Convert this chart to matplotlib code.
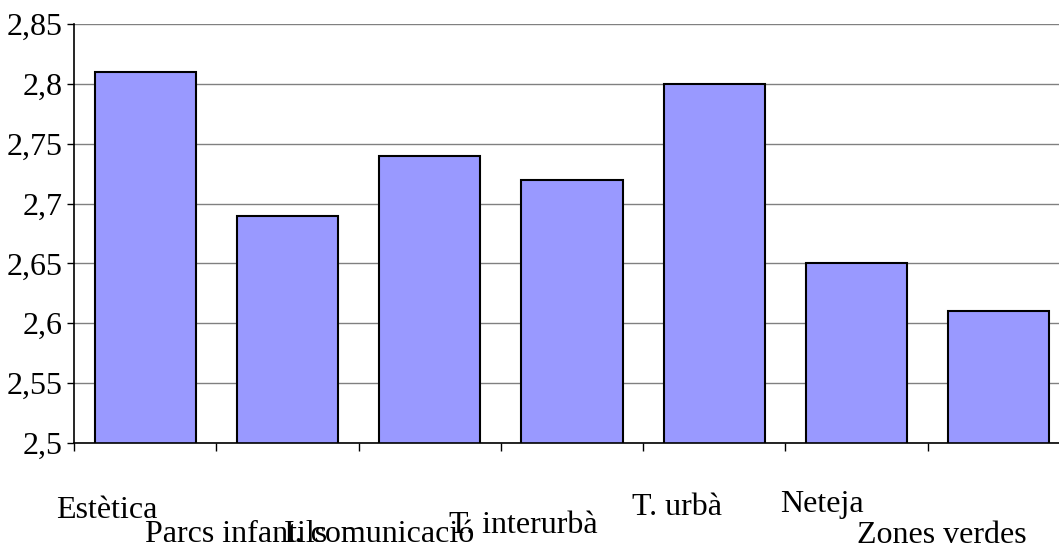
import matplotlib
matplotlib.use("Agg")
import matplotlib.pyplot as plt
from matplotlib.ticker import FuncFormatter, MultipleLocator, FixedLocator

plt.rcParams['font.family'] = ['Liberation Serif', 'DejaVu Serif']

# Data
categories = ['Estètica', 'Parcs infantils', 'I. comunicació', 'T. interurbà',
              'T. urbà', 'Neteja', 'Zones verdes']
values = [2.81, 2.69, 2.74, 2.72, 2.80, 2.65, 2.61]

# Label placement (pixels from bar centre / below axis), Excel-style stagger
label_dx = [-89, -142, -146, -123, -82, -76, -142]
label_dy = [75, 99, 99, 90, 72, 69, 100]

fig = plt.figure(figsize=(10.59, 5.46), dpi=100)
ax = fig.add_axes([74 / 1059, 103 / 546, 996 / 1059, 419 / 546])

x = list(range(len(categories)))
ax.bar(x, values, width=0.71, color='#9999FF', edgecolor='black',
       linewidth=1.5, zorder=3)

ax.set_xlim(-0.5, len(categories) - 0.5)
ax.set_ylim(2.5, 2.85)

# Y axis: comma decimal labels
ax.yaxis.set_major_locator(MultipleLocator(0.05))
ax.yaxis.set_major_formatter(FuncFormatter(lambda v, p: f"{round(v, 2):g}".replace('.', ',')))
ax.tick_params(axis='y', direction='out', length=5, width=1, pad=3,
               labelsize=23, colors='black')
ax.yaxis.grid(True, color='#808080', linewidth=1, zorder=0)

# X axis: tick marks at category boundaries only
ax.xaxis.set_major_locator(FixedLocator([i - 0.5 for i in range(len(categories) + 1)]))
ax.set_xticklabels([])
ax.tick_params(axis='x', direction='out', length=6, width=1)

for s in ['top', 'right']:
    ax.spines[s].set_visible(False)
ax.spines['left'].set_linewidth(1.2)
ax.spines['bottom'].set_linewidth(1.2)
ax.spines['left'].set_zorder(4)
ax.spines['bottom'].set_zorder(4)

for i, name in enumerate(categories):
    ax.annotate(name, xy=(i, 0), xycoords=('data', 'axes fraction'),
                xytext=(label_dx[i] * 0.72, -label_dy[i] * 0.72),
                textcoords='offset points', ha='left', va='baseline',
                fontsize=23, annotation_clip=False)

fig.savefig('out.png', dpi=100)
